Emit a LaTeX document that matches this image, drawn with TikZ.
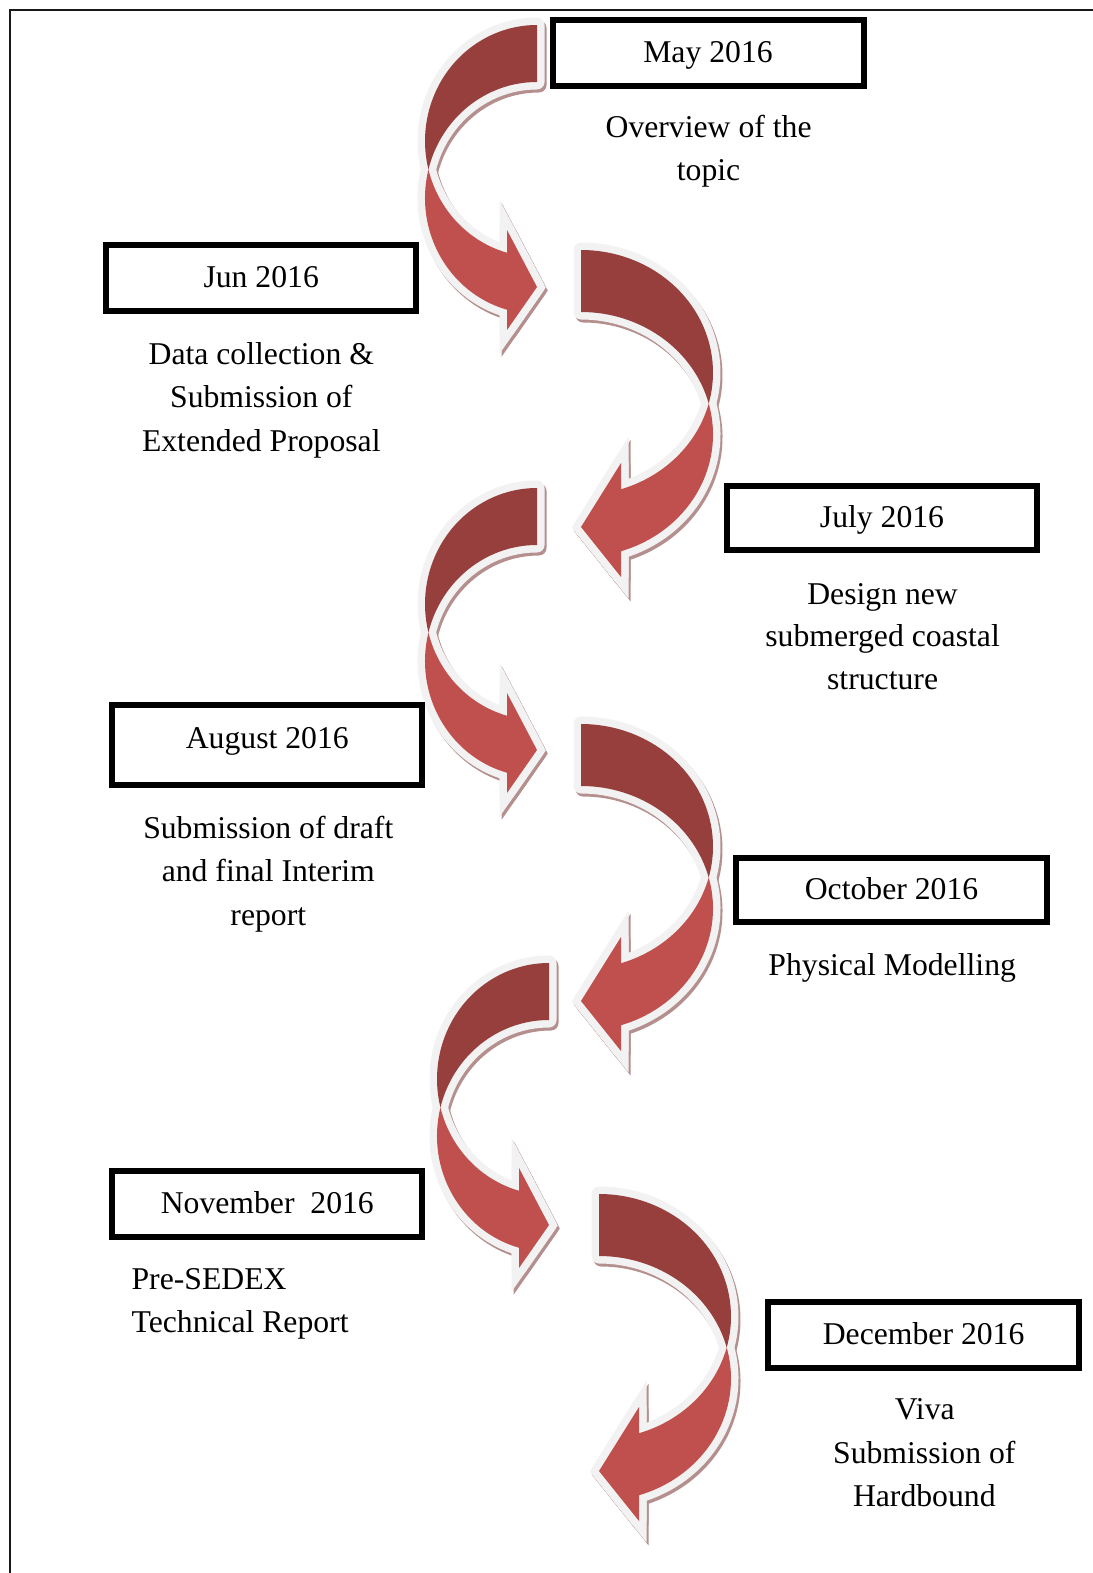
\documentclass[tikz,border=0pt]{standalone}
\usepackage{fontspec}
\setmainfont{Liberation Serif}
\definecolor{darkband}{HTML}{963F3D}
\definecolor{lightband}{HTML}{C0504D}
\definecolor{rimc}{HTML}{F2F2F2}
\definecolor{shadowc}{HTML}{B58F8E}
\newcommand\bodyfont{\fontsize{31.7}{43}\selectfont}
\tikzset{
  datebox/.style={draw=black, line width=6pt, minimum width=310, minimum height=66,
    inner sep=0pt, font=\bodyfont, text height=26, text depth=6.9},
  descline/.style={anchor=base, inner sep=0pt, font=\bodyfont},
  rim/.style={draw=rimc, fill=rimc, line width=15pt, line join=round},
  rimhead/.style={draw=rimc, fill=rimc, line width=15pt, line join=miter},
  rimshadow/.style={draw=shadowc, fill=shadowc, line width=15pt, line join=round},
  rimshadowhead/.style={draw=shadowc, fill=shadowc, line width=15pt, line join=miter},
}
% #1,#2 tail corner, #3 mirror, #4 w, #5 h, #6 thickness, #7 head base offset, #8 top barb, #9 bottom barb
\newcommand\ribbonarrow[9]{%
  \pgfmathsetmacro\raq{asin(#6/(2*#5))}%
  \pgfmathsetmacro\rat{acos(-#7/#4)}%
  \pgfmathsetmacro\ratip{(#8+#9)/2+7}%
  \pgfmathsetmacro\raix{-#4*cos(\raq)}%
  \pgfmathsetmacro\raiy{#5+#6/2}%
  \pgfmathsetmacro\rabi{#5+#5*sin(\rat)}%
  \def\backpath{(0,0) arc[start angle=270, end angle={180-\raq}, x radius=#4, y radius=#5]
     arc[start angle={180+\raq}, end angle=270, x radius=#4, y radius=#5] -- cycle}%
  \def\frontpath{(\raix,\raiy) arc[start angle={180+\raq}, end angle=\rat, x radius=#4, y radius=#5]
     -- (-#7,#9) -- (0,\ratip) -- (-#7,#8) -- (-#7,\rabi)
     arc[start angle=\rat, end angle={180-\raq}, x radius=#4, y radius=#5] -- cycle}%
  \def\headpath{(-#7,#9) -- (0,\ratip) -- (-#7,#8) -- cycle}%
  \begin{scope}[shift={(#1+2,#2+3)}, xscale=#3]
    \path[rimshadow] \backpath;
    \path[rimshadow] \frontpath;
    \path[rimshadowhead] \headpath;
  \end{scope}
  \begin{scope}[shift={(#1,#2)}, xscale=#3]
    \path[rim] \backpath;
    \path[rim] \frontpath;
    \path[rimhead] \headpath;
    \fill[darkband] \backpath;
    \fill[lightband] \frontpath;
  \end{scope}}
\begin{document}
\begin{tikzpicture}[x=1pt,y=-1pt]
\useasboundingbox (0,0) rectangle (1092,1573);
\fill[white] (0,0) rectangle (1092,1573);
\draw[line width=2.5pt, black!90] (10,1580) -- (10,10) -- (1100,10);

% curved arrows
\ribbonarrow{537}{25}{1}{112}{116}{57}{30}{205}{305}
\ribbonarrow{581}{250}{-1}{132}{122.5}{62}{40}{213}{327}
\ribbonarrow{537}{488}{1}{112}{116}{57}{30}{205}{305}
\ribbonarrow{581}{724}{-1}{132}{122.5}{62}{40}{213}{327}
\ribbonarrow{549}{963}{1}{112}{116}{57}{30}{205}{305}
\ribbonarrow{599}{1194}{-1}{132}{122.5}{62}{40}{213}{327}

% date boxes
\node[datebox, minimum width=311] (may) at (708,53) {May 2016};
\node[datebox] (jun) at (261.2,278.4) {Jun 2016};
\node[datebox, minimum height=64] (jul) at (882,517.7) {July 2016};
\node[datebox, minimum height=80, text depth=20.6] (aug) at (267.3,745.4) {August 2016};
\node[datebox, minimum width=311, minimum height=64] (oct) at (891.5,889.8) {October 2016};
\node[datebox] (nov) at (267.3,1204.3) {November\ \ 2016};
\node[datebox, minimum width=311] (dec) at (923.6,1334.8) {December 2016};

% descriptions
\node[descline] (mayd1) at (708.6,137.5) {Overview of the};
\node[descline] (mayd2) at (708.6,180.6) {topic};
\node[descline] (jund1) at (261.3,364.8) {Data collection \&};
\node[descline] (jund2) at (261.3,407.9) {Submission of};
\node[descline] (jund3) at (261.3,451) {Extended Proposal};
\node[descline] (juld1) at (882.6,604.2) {Design new};
\node[descline] (juld2) at (882.6,646.3) {submerged coastal};
\node[descline] (juld3) at (882.6,689.5) {structure};
\node[descline] (augd1) at (268.3,838.8) {Submission of draft};
\node[descline] (augd2) at (268.3,881.9) {and final Interim};
\node[descline] (augd3) at (268.3,925.1) {report};
\node[descline] (octd1) at (892.2,975) {Physical Modelling};
\node[descline, anchor=base west] (novd1) at (131.4,1289) {Pre-SEDEX};
\node[descline, anchor=base west] (novd2) at (131.4,1332.2) {Technical Report};
\node[descline] (decd1) at (924.8,1419.8) {Viva};
\node[descline] (decd2) at (924.3,1463) {Submission of};
\node[descline] (decd3) at (924.3,1506.1) {Hardbound};
\end{tikzpicture}
\end{document}
